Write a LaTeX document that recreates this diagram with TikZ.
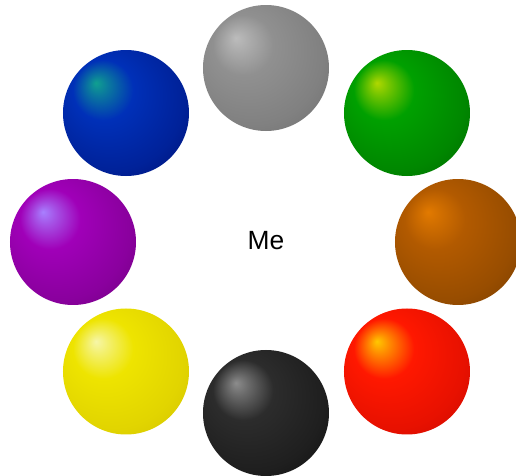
\documentclass[tikz,border=0pt]{standalone}
\usepackage{fontspec}
\setmainfont{Liberation Sans}
\usepackage{tikz}
\usetikzlibrary{positioning}

\definecolor{orbhi}{RGB}{255,255,255}
\definecolor{orbbase}{RGB}{128,128,128}
\definecolor{orbedge}{RGB}{0,0,0}
\pgfdeclareradialshading[orbhi,orbbase,orbedge]{orbshade}{\pgfqpoint{-12bp}{12bp}}{%
  color(0bp)=(orbhi); color(4bp)=(orbhi!65!orbbase); color(12bp)=(orbbase);
  color(28bp)=(orbbase!70!orbedge); color(50bp)=(orbedge)}

\begin{document}
\begin{tikzpicture}[
  orb/.style n args={3}{circle, minimum size=2.52cm, inner sep=0pt,
    /utils/exec={\definecolor{orbhi}{HTML}{#1}\definecolor{orbbase}{HTML}{#2}\definecolor{orbedge}{HTML}{#3}},
    shading=orbshade}
]
  \clip (-5.32, -4.68) rectangle (5.0, 4.84);

  \node[orb={BCBCBC}{909090}{5C5C5C}] (grey) at (0, 3.48) {};
  \node[orb={B0D800}{00A000}{004C00}] (green) at (2.82, 2.58) {};
  \node[orb={E27A00}{B25A00}{5A2E00}] (brown) at (3.84, 0) {};
  \node[orb={FFC800}{FF1800}{B00000}] (red) at (2.82, -2.59) {};
  \node[orb={8C8C8C}{2C2C2C}{000000}] (black) at (0, -3.42) {};
  \node[orb={F6F6A8}{EEE400}{C4B000}] (yellow) at (-2.8, -2.59) {};
  \node[orb={A880FF}{A000B8}{560060}] (purple) at (-3.86, 0) {};
  \node[orb={10A090}{0030B8}{000050}] (blue) at (-2.8, 2.58) {};

  \node[font=\fontsize{15}{18}\selectfont] (me) at (0, 0.02) {Me};
\end{tikzpicture}
\end{document}
